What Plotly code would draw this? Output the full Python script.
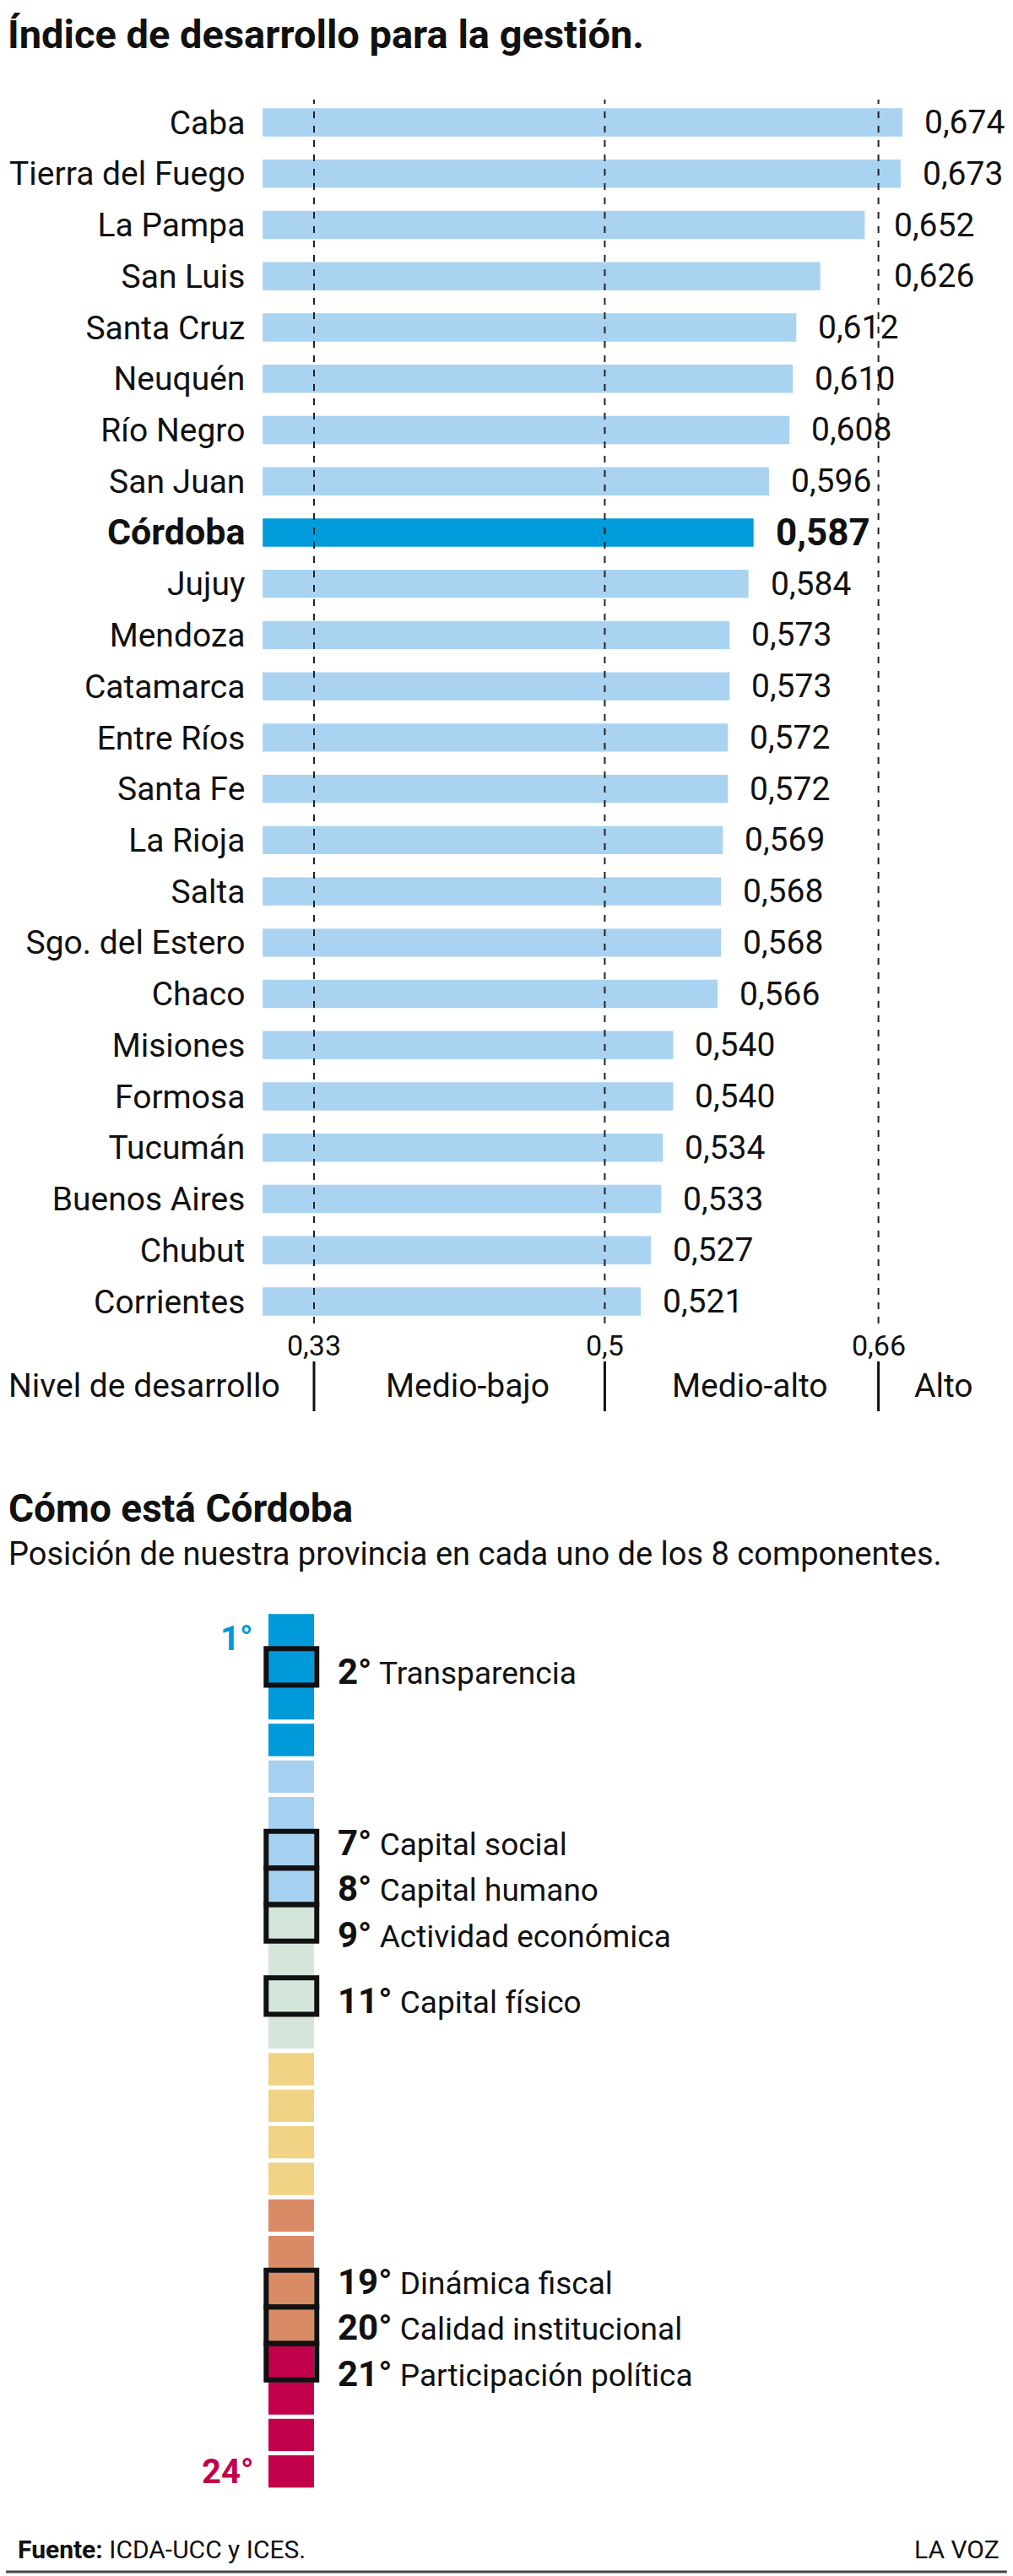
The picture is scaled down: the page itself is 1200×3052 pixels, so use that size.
import plotly.graph_objects as go

W, H = 1200, 3052

# ---------------- data ----------------
provinces = ["Caba", "Tierra del Fuego", "La Pampa", "San Luis", "Santa Cruz", "Neuquén",
             "Río Negro", "San Juan", "Córdoba", "Jujuy", "Mendoza", "Catamarca",
             "Entre Ríos", "Santa Fe", "La Rioja", "Salta", "Sgo. del Estero", "Chaco",
             "Misiones", "Formosa", "Tucumán", "Buenos Aires", "Chubut", "Corrientes"]
values = [0.674, 0.673, 0.652, 0.626, 0.612, 0.610, 0.608, 0.596, 0.587, 0.584, 0.573, 0.573,
          0.572, 0.572, 0.569, 0.568, 0.568, 0.566, 0.540, 0.540, 0.534, 0.533, 0.527, 0.521]
highlight = "Córdoba"
thresholds = [0.33, 0.5, 0.66]
threshold_labels = ["0,33", "0,5", "0,66"]
level_names = ["Medio-bajo", "Medio-alto", "Alto"]

components = ["Transparencia", "Capital social", "Capital humano", "Actividad económica",
              "Capital físico", "Dinámica fiscal", "Calidad institucional", "Participación política"]
component_ranks = [2, 7, 8, 9, 11, 19, 20, 21]
n_positions = 24
band_colors = ["#0099d9", "#a6d0ef", "#d4e6da", "#f0d385", "#d98b66", "#c3004b"]
band_size = 4

# ---------------- style ----------------
FONT = "Roboto, 'Open Sans', sans-serif"
INK = "#111111"
BAR_LIGHT = "#a9d3f1"
BAR_HI = "#009bdb"


def py(p):
    return 1 - p / H


fig = go.Figure()

# ---- chart 1: horizontal bars ----
bar_colors = [BAR_HI if p == highlight else BAR_LIGHT for p in provinces]
fig.add_trace(go.Bar(
    x=values, y=provinces, orientation="h", width=0.55,
    marker=dict(color=bar_colors, line=dict(width=0)),
    xaxis="x", yaxis="y", hoverinfo="skip"))

x0_px, slope = 311.2, 2026.1
xr = [0.3, 0.73]
fig.update_layout(
    xaxis=dict(range=xr, domain=[x0_px / W, (x0_px + (xr[1] - xr[0]) * slope) / W],
               visible=False, anchor="y", fixedrange=True),
    yaxis=dict(type="category", categoryorder="array", categoryarray=provinces,
               range=[23.428, -0.445], domain=[py(1568), py(118)], anchor="x",
               tickmode="array", tickvals=provinces,
               ticktext=[f"<b><span style='font-size:43px'>{p}</span></b>" if p == highlight else p
                         for p in provinces],
               ticks="outside", ticklen=12, tickcolor="rgba(0,0,0,0)",
               tickfont=dict(family=FONT, size=39, color=INK),
               showgrid=False, zeroline=False, showline=False),
)

shapes = []
annotations = []

for t in thresholds:
    shapes.append(dict(type="line", xref="x", yref="y domain", x0=t, x1=t, y0=0, y1=1,
                       line=dict(color="#222222", width=2, dash="8px,9px"), layer="above"))

label_half_px = 24 + 47
for p, v in zip(provinces, values):
    txt = f"{v:.3f}".replace(".", ",")
    bold = p == highlight
    x = v
    xs = 24
    if v < thresholds[-1] and v + label_half_px / slope > thresholds[-1] - 20 / slope:
        x = thresholds[-1]
        xs = 16
    annotations.append(dict(
        x=x, y=p, xref="x", yref="y", xanchor="left", yanchor="middle", xshift=xs,
        text=f"<b>{txt}</b>" if bold else txt, showarrow=False,
        font=dict(family=FONT, size=44 if bold else 39, color=INK)))

for t, lab in zip(thresholds, threshold_labels):
    annotations.append(dict(x=t, y=py(1594), xref="x", yref="paper", xanchor="center",
                            yanchor="middle", text=lab, showarrow=False,
                            font=dict(family=FONT, size=34, color=INK)))
    shapes.append(dict(type="line", xref="x", yref="paper", x0=t, x1=t,
                       y0=py(1672), y1=py(1613), line=dict(color=INK, width=3)))

annotations.append(dict(x=8 / W, y=py(1642), xref="paper", yref="paper", xanchor="left",
                        yanchor="middle", text="Nivel de desarrollo", showarrow=False,
                        font=dict(family=FONT, size=39, color=INK)))
mids = [(thresholds[0] + thresholds[1]) / 2, (thresholds[1] + thresholds[2]) / 2]
for m, name in zip(mids, level_names[:2]):
    annotations.append(dict(x=m, y=py(1642), xref="x", yref="paper", xanchor="center",
                            xshift=10, yanchor="middle", text=name, showarrow=False,
                            font=dict(family=FONT, size=39, color=INK)))
annotations.append(dict(x=thresholds[2], y=py(1642), xref="x", yref="paper", xanchor="left",
                        xshift=40, yanchor="middle", text=level_names[2], showarrow=False,
                        font=dict(family=FONT, size=39, color=INK)))

# ---- chart 2: ranking column ----
ranks = list(range(1, n_positions + 1))
rank_colors = [band_colors[(r - 1) // band_size] for r in ranks]
fig.add_trace(go.Bar(
    x=[1] * n_positions, y=ranks, orientation="h", width=0.885,
    marker=dict(color=rank_colors, line=dict(width=0)),
    xaxis="x2", yaxis="y2", hoverinfo="skip"))

cell_px = 54.0
pad_u = 0.14
fig.update_layout(
    xaxis2=dict(range=[-pad_u, 1 + pad_u],
                domain=[(318 - pad_u * cell_px) / W, (372 + pad_u * cell_px) / W],
                visible=False, anchor="y2"),
    yaxis2=dict(range=[n_positions + 0.5, 0.5], domain=[py(2949.8), py(1909.8)],
                visible=False, anchor="x2"),
)

# groups of consecutive ranks for label spreading
groups = []
for r in component_ranks:
    if groups and r == groups[-1][-1] + 1:
        groups[-1].append(r)
    else:
        groups.append([r])
offsets = {}
for g in groups:
    mid = (len(g) - 1) / 2
    for k, r in enumerate(g):
        offsets[r] = 3 + 11 * (k - mid) if len(g) > 1 else 6

for r, name in zip(component_ranks, components):
    shapes.append(dict(type="rect", xref="x2", yref="y2", x0=-0.05, x1=1.06,
                       y0=r - 0.5, y1=r + 0.5, line=dict(color=INK, width=6),
                       fillcolor="rgba(0,0,0,0)", layer="above"))
    annotations.append(dict(
        x=1, y=r, xref="x2", yref="y2", xanchor="left", yanchor="middle",
        xshift=26, yshift=-offsets[r],
        text=f"<b><span style='font-size:42px'>{r}°</span></b> {name}", showarrow=False,
        font=dict(family=FONT, size=37, color=INK)))

for r, ys in [(1, -10), (n_positions, 0)]:
    annotations.append(dict(
        x=0, y=r, xref="x2", yref="y2", xanchor="right", yanchor="middle", xshift=-16,
        yshift=ys, text=f"<b>{r}°</b>", showarrow=False,
        font=dict(family=FONT, size=40, color=rank_colors[r - 1])))

# ---- titles & footer ----
annotations += [
    dict(x=7 / W, y=py(40), xref="paper", yref="paper", xanchor="left", yanchor="middle",
         text="<b>Índice de desarrollo para la gestión.</b>", showarrow=False,
         font=dict(family=FONT, size=47, color=INK)),
    dict(x=8 / W, y=py(1787), xref="paper", yref="paper", xanchor="left", yanchor="middle",
         text="<b>Cómo está Córdoba</b>", showarrow=False,
         font=dict(family=FONT, size=46, color=INK)),
    dict(x=8 / W, y=py(1841), xref="paper", yref="paper", xanchor="left", yanchor="middle",
         text="Posición de nuestra provincia en cada uno de los 8 componentes.",
         showarrow=False, font=dict(family=FONT, size=38, color=INK)),
    dict(x=19 / W, y=py(3020), xref="paper", yref="paper", xanchor="left", yanchor="middle",
         text="<b>Fuente:</b> ICDA-UCC y ICES.", showarrow=False,
         font=dict(family=FONT, size=30, color=INK)),
    dict(x=1186 / W, y=py(3020), xref="paper", yref="paper", xanchor="right", yanchor="middle",
         text="LA VOZ", showarrow=False, font=dict(family=FONT, size=30, color=INK)),
]
shapes.append(dict(type="line", xref="paper", yref="paper", x0=0.006, x1=0.994,
                   y0=py(3047), y1=py(3047), line=dict(color="#444444", width=3)))

fig.update_layout(
    width=W, height=H, margin=dict(l=0, r=0, t=0, b=0, pad=0),
    paper_bgcolor="white", plot_bgcolor="white", showlegend=False,
    barmode="overlay", shapes=shapes, annotations=annotations,
    font=dict(family=FONT, color=INK),
)

fig.write_html("out.html")
